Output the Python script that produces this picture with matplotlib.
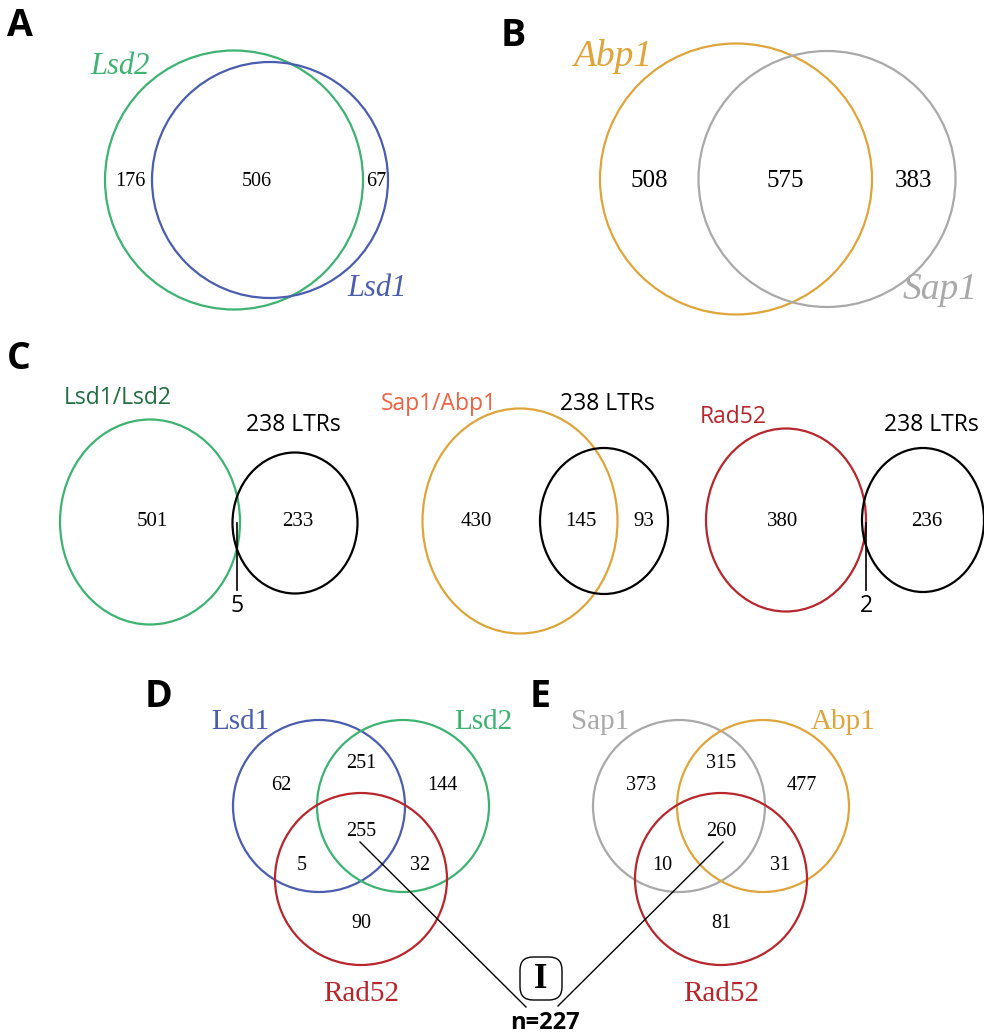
import matplotlib.pyplot as plt
from matplotlib.patches import Ellipse, FancyBboxPatch

# ---- data ----
a_sets = ['Lsd2', 'Lsd1']
a_counts = [176, 506, 67]          # Lsd2 only, both, Lsd1 only

b_sets = ['Abp1', 'Sap1']
b_counts = [508, 575, 383]         # Abp1 only, both, Sap1 only

c_sets = ['Lsd1/Lsd2', 'Sap1/Abp1', 'Rad52']
c_ltr_label = '238 LTRs'
c_only = [501, 430, 380]
c_overlap = [5, 145, 2]
c_ltr_only = [233, 93, 236]

d_sets = ['Lsd1', 'Lsd2', 'Rad52']
d_counts = [62, 251, 144, 255, 5, 32, 90]   # 1, 12, 2, 123, 13, 23, 3
e_sets = ['Sap1', 'Abp1', 'Rad52']
e_counts = [373, 315, 477, 260, 10, 31, 81]
box_label = 'I'
n_common = 227

# ---- colours ----
green = '#3cb371'
blue = '#4a5dae'
orange = '#dfa43a'
gray = '#a9a9a9'
red = '#b8252b'
coral = '#f2603f'
dkgreen = '#1e6e40'

serif = 'Liberation Serif'
sans = 'Open Sans'

fig = plt.figure(figsize=(9.84, 10.36), dpi=100)
ax = fig.add_axes([0, 0, 1, 1])
ax.set_xlim(0, 984)
ax.set_ylim(1036, 0)
ax.axis('off')


def ring(x, y, w, h, col, lw=1.6):
    ax.add_patch(Ellipse((x, y), w, h, fill=False, edgecolor=col, lw=lw))


def num(x, y, v, size=15, **kw):
    ax.text(x, y, str(v), ha='center', va='center', family=serif,
            size=size, **kw)


def panel_letter(x, y, s):
    ax.text(x, y, s, ha='left', va='center', family=sans,
            weight='bold', size=27)


# ---- A ----
panel_letter(7, 26, 'A')
ring(234, 180, 258, 259, green)
ring(270, 180, 236, 236, blue)
ax.text(120, 67, a_sets[0], ha='center', va='center', family=serif,
        style='italic', size=22, color=green)
ax.text(377, 289, a_sets[1], ha='center', va='center', family=serif,
        style='italic', size=22, color=blue)
for x, v in zip([130, 257, 376], a_counts):
    num(x, 182, v, size=14.5)

# ---- B ----
panel_letter(501, 36, 'B')
ring(736, 179, 272, 271, orange)
ring(827, 179, 257, 256, gray)
ax.text(613, 56, b_sets[0], ha='center', va='center', family=serif,
        style='italic', size=27, color=orange)
ax.text(940, 290, b_sets[1], ha='center', va='center', family=serif,
        style='italic', size=27, color=gray)
for x, v in zip([649, 785, 913], b_counts):
    num(x, 181, v, size=18)

# ---- C ----
panel_letter(7, 359, 'C')
c_main = [(150, 522, 180, 205, green), (520, 521, 195, 225, orange),
          (786, 520, 160, 183, red)]
c_ltr = [(295, 523, 125, 141), (604, 521, 128, 146), (923, 520, 122, 144)]
c_lab = [(118, 398, dkgreen), (439, 404, coral), (733, 417, red)]
c_ltr_lab = [(293, 425), (607, 404), (931, 425)]
c_num_x = [(152, 298), (476, 644), (783, 927)]
for i in range(3):
    x, y, w, h, col = c_main[i]
    ring(x, y, w, h, col)
    lx, ly, lw_, lh = c_ltr[i]
    ring(lx, ly, lw_, lh, 'black')
    ax.text(c_lab[i][0], c_lab[i][1], c_sets[i], ha='center', va='center',
            family=sans, size=16.5, color=c_lab[i][2])
    ax.text(c_ltr_lab[i][0], c_ltr_lab[i][1], c_ltr_label, ha='center',
            va='center', family=sans, size=16.5, color='black')
    num(c_num_x[i][0], 522, c_only[i], size=15)
    num(c_num_x[i][1], 522, c_ltr_only[i], size=15)

# overlap counts: small ones pulled out with a leader line
num(581, 522, c_overlap[1], size=15)
for x, v in [(237, c_overlap[0]), (866, c_overlap[2])]:
    ax.plot([x, x], [523, 590], color='black', lw=1.2)
    ax.text(x, 606, str(v), ha='center', va='center', family=sans, size=16.5)

# ---- D & E ----
def venn3(cx, labels, counts, cols, letter_x, letter):
    panel_letter(letter_x, 697, letter)
    r = 172
    centers = [(cx - 42, 806), (cx + 42, 806), (cx, 879)]
    for (x, y), col in zip(centers, cols):
        ring(x, y, r, r, col)
    ax.text(cx - 121, 722, labels[0], ha='center', va='center', family=serif,
            size=21, color=cols[0])
    ax.text(cx + 122, 722, labels[1], ha='center', va='center', family=serif,
            size=21, color=cols[1])
    ax.text(cx, 994, labels[2], ha='center', va='center', family=serif,
            size=21, color=cols[2])
    offs = [(-80, 785), (0, 763), (81, 785), (0, 832), (-59, 865),
            (59, 865), (0, 923)]
    for (dx, y), v in zip(offs, counts):
        num(cx + dx, y, v, size=14.5)


venn3(361, d_sets, d_counts, [blue, green, red], 145, 'D')
venn3(721, e_sets, e_counts, [gray, orange, red], 530, 'E')

# leader lines from the triple overlaps to the common box
ax.plot([360, 526], [842, 1007], color='black', lw=1)
ax.plot([723, 558], [842, 1006], color='black', lw=1)
ax.add_patch(FancyBboxPatch((520, 957), 42, 43,
                            boxstyle='round,pad=0,rounding_size=13',
                            fill=False, edgecolor='black', lw=1))
ax.text(541, 979, box_label, ha='center', va='center', family=serif,
        weight='bold', size=25)
ax.text(545, 1023, 'n=%d' % n_common, ha='center', va='center',
        family=sans, weight='bold', size=17)

fig.savefig('out.png', dpi=100)
